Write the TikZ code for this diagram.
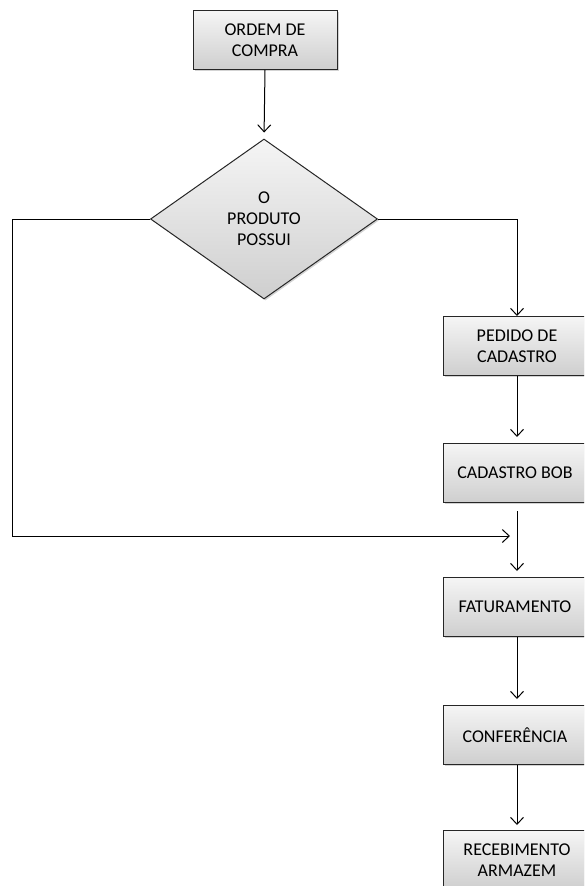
\documentclass[tikz,border=0pt]{standalone}
\usepackage{fontspec}
\setmainfont{Carlito}
\usepackage{tikz}
\usetikzlibrary{positioning, shapes.geometric, arrows.meta, shadows}

\begin{document}
\begin{tikzpicture}[x=1pt, y=-1pt,
    every node/.style = { align = center, font = \fontsize{18}{21}\selectfont },
    caixa/.style = { draw = black!85, line width = 1pt, shape = rectangle,
                     top color = gray!8, bottom color = gray!38,
                     minimum width = 148pt, minimum height = 59pt, inner sep = 0pt,
                     drop shadow={opacity=.35,shadow xshift=1.5pt,shadow yshift=-1.5pt} },
    decisao/.style = { caixa, shape = diamond, minimum width = 227pt, minimum height = 160pt },
    seta/.style = { draw, line width = 1pt, -{Straight Barb[length = 7pt, width = 13pt]} }]
    \clip (0,0) rectangle (584,886);

    \node [caixa, minimum width = 144pt] (ordem) at (265,40) { ORDEM DE \\ COMPRA };
    \node [decisao] (dec) at (264,219) { O \\ PRODUTO \\ POSSUI };
    \node [caixa] (ped) at (517,346) { PEDIDO DE \\ CADASTRO };
    \node [caixa, below = 67pt of ped] (bob) { CADASTRO BOB };
    \node [caixa, below = 74pt of bob] (fat) { FATURAMENTO };
    \node [caixa, below = 68pt of fat] (conf) { CONFERÊNCIA };
    \node [caixa, below = 65pt of conf] (receb) { RECEBIMENTO \\ ARMAZEM };

    \coordinate (canto) at (12,536);
    \coordinate (chegada) at (510,536);

    \draw [seta, shorten > = 6pt] (ordem.south) -- (dec.north);
    \draw [seta] (dec.east) -| (ped.north);
    \draw [seta] (dec.west) -| (canto) -- (chegada);
    \draw [seta, shorten > = 6pt] (ped) -- (bob);
    \draw [seta, shorten < = 8pt, shorten > = 6pt] (bob) -- (fat);
    \draw [seta, shorten > = 6pt] (fat) -- (conf);
    \draw [seta, shorten > = 5pt] (conf) -- (receb);
\end{tikzpicture}
\end{document}
